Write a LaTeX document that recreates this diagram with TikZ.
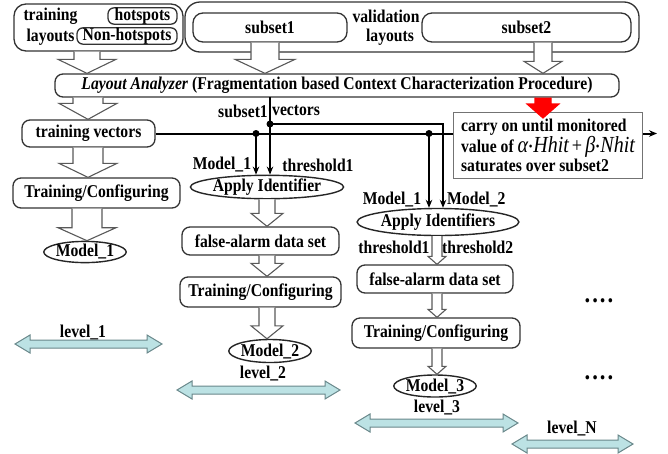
\documentclass[tikz,border=0pt]{standalone}
\usepackage{fontspec}
\setmainfont{Liberation Serif}[FakeStretch=0.87]
\usetikzlibrary{calc,shapes.geometric,arrows.meta}

% italic symbols of the monitored quantity
\newcommand\hv[1]{{\mdseries\itshape\fontsize{23}{19}\selectfont #1}}

% hollow block arrow pointing down: [style] {from} {to} {shaft half} {head half} {head length}
\newcommand\hollowarrow[6][]{%
  \draw[blockarrow,#1] let \p1=(#2), \p2=(#3) in
    (\x1-#4pt,\y1) -- (\x1-#4pt,\y2+#6pt) -- (\x1-#5pt,\y2+#6pt) -- (\x1,\y2)
    -- (\x1+#5pt,\y2+#6pt) -- (\x1+#4pt,\y2+#6pt) -- (\x1+#4pt,\y1);}

% horizontal double-headed level marker: {left x} {right x} {y}
\newcommand\levelmark[3]{%
  \draw[lvlarrow] (#1,#3) -- (#1+15,#3-9) -- (#1+15,#3-4) -- (#2-15,#3-4) -- (#2-15,#3-9)
    -- (#2,#3) -- (#2-15,#3+9) -- (#2-15,#3+4) -- (#1+15,#3+4) -- (#1+15,#3+9) -- cycle;}

\definecolor{lvlfill}{RGB}{188,226,228}
\definecolor{lvledge}{RGB}{105,135,138}

\tikzset{
  txt/.style={font=\fontsize{18}{19}\selectfont\bfseries, inner sep=0pt},
  rbox/.style={txt, draw=black!80, line width=1.3pt, rounded corners=8pt},
  ell/.style={txt, ellipse, draw=black!85, line width=1.4pt},
  blockarrow/.style={draw=black!65, fill=white, line width=1.1pt, line join=miter},
  conn/.style={line width=2pt, -{Stealth[length=8pt,width=6.5pt]}},
  thick line/.style={line width=2pt},
  lvlarrow/.style={draw=lvledge, fill=lvlfill, line width=1pt, line join=miter},
}

\begin{document}
\begin{tikzpicture}[x=1pt,y=-1pt]
\useasboundingbox (0,0) rectangle (668,453);

% ---- input layouts
\node[rbox, rounded corners=12pt, minimum width=169pt, minimum height=47pt] (trl) at (98.5,27.5) {};
\node[txt] (trtxt1) at (50.5,16) {training};
\node[txt] (trtxt2) at (50.5,37) {layouts};
\node[rbox, rounded corners=6pt, minimum width=69pt, minimum height=15pt] (hot) at (142.5,16) {hotspots};
\node[rbox, rounded corners=6pt, minimum width=100pt, minimum height=15pt] (nonhot) at (127,36) {Non-hotspots};

\node[rbox, rounded corners=15pt, minimum width=454pt, minimum height=50pt] (val) at (412,27) {};
\node[rbox, rounded corners=10pt, minimum width=154pt, minimum height=29pt] (sub1) at (270,27.5) {subset1};
\node[rbox, rounded corners=10pt, minimum width=209pt, minimum height=29pt] (sub2) at (526.5,27.5) {subset2};
\node[txt] (valtxt1) at (386,16) {validation};
\node[txt] (valtxt2) at (390,37) {layouts};

% ---- analyzer
\node[rbox, minimum width=564pt, minimum height=23pt] (LA) at (337,85.5)
  {\textit{Layout Analyzer} (Fragmentation based Context Characterization Procedure)};

% ---- level 1
\node[rbox, minimum width=133pt, minimum height=27pt] (tv) at (88.5,133.5) {training vectors};
\node[rbox, minimum width=167pt, minimum height=30pt] (tc1) at (96.5,193) {Training/Configuring};
\node[ell, minimum width=74pt, minimum height=21pt] (m1) at (85,252) {Model\_1};
\node[txt] (lv1) at (83,332) {level\_1};

% ---- level 2
\node[ell, minimum width=122pt, minimum height=21pt] (ai1) at (267,187) {Apply Identifier};
\node[rbox, minimum width=157pt, minimum height=28pt] (fa2) at (260.5,241) {false-alarm data set};
\node[rbox, minimum width=161pt, minimum height=30pt] (tc2) at (260.5,292) {Training/Configuring};
\node[ell, minimum width=80pt, minimum height=23pt] (m2) at (270,351) {Model\_2};
\node[txt] (lv2) at (263,373) {level\_2};

% ---- level 3
\node[ell, minimum width=130pt, minimum height=27pt] (ai2) at (438,222) {Apply Identifiers};
\node[rbox, minimum width=156pt, minimum height=28pt] (fa3) at (435,279) {false-alarm data set};
\node[rbox, minimum width=168pt, minimum height=30pt] (tc3) at (436,333) {Training/Configuring};
\node[ell, minimum width=74pt, minimum height=22pt] (m3) at (435,386) {Model\_3};
\node[txt] (lv3) at (437,407) {level\_3};

% ---- level N
\node[txt] (lvN) at (572,428) {level\_N};
\node[txt, font=\fontsize{26}{26}\selectfont\bfseries] (dots1) at (599,301) {.\kern2pt.\kern2pt.\kern2pt.};
\node[txt, font=\fontsize{26}{26}\selectfont\bfseries] (dots2) at (599,378) {.\kern2pt.\kern2pt.\kern2pt.};

% ---- stopping rule
\node[txt, draw=black!55, line width=1pt, minimum width=189pt, minimum height=66pt,
      align=left, anchor=north west] (carry) at (453,112)
  {carry on until monitored\\value of \hv{α}·\hv{Hhit}\,{\mdseries\fontsize{21}{19}\selectfont +}\,\hv{β}·\hv{Nhit}\\saturates over subset2};

% ---- edge labels
\node[txt, anchor=east] (s1lab) at (268,111) {subset1};
\node[txt, anchor=west] (veclab) at (272,111) {vectors};
\node[txt] (lm1a) at (222,165) {Model\_1};
\node[txt] (lth1a) at (318,165) {threshold1};
\node[txt] (lm1b) at (392,200) {Model\_1};
\node[txt, anchor=west] (lm2b) at (447,200) {Model\_2};
\node[txt] (lth1b) at (394,247) {threshold1};
\node[txt, anchor=west] (lth2b) at (442,247) {threshold2};

% ---- hollow flow arrows
\hollowarrow{87,0 |- trl.south}{LA.north}{13}{29}{14}
\hollowarrow{265,0 |- sub1.south}{LA.north}{14}{30}{14}
\hollowarrow{543,0 |- sub2.south}{LA.north}{9}{19}{12}
\hollowarrow[draw=red, fill=red]{543,0 |- LA.south}{$(carry.north)+(0,6)$}{8}{16}{14}

\hollowarrow{88,0 |- LA.south}{tv.north}{15}{29}{16}
\hollowarrow{88,0 |- tv.south}{tc1.north}{15}{29}{14}
\hollowarrow{87,0 |- tc1.south}{m1.north}{15}{29}{13}

\hollowarrow{267,0 |- ai1.south}{fa2.north}{8}{16}{13}
\hollowarrow{267,0 |- fa2.south}{tc2.north}{8}{16}{13}
\hollowarrow{267,0 |- tc2.south}{m2.north}{8}{16}{13}

\hollowarrow{437,0 |- ai2.south}{fa3.north}{5}{9}{8}
\hollowarrow{437,0 |- fa3.south}{tc3.north}{5}{9}{8}
\hollowarrow{437,0 |- tc3.south}{m3.north}{5}{9}{8}

% ---- vector buses
\coordinate (j1) at (256,133.5);
\coordinate (j2) at (429,133.5);
\coordinate (k0) at (270,97);
\coordinate (k1) at (270,124);
\coordinate (k2) at (443,124);
\coordinate (out) at (657,133.5);

\draw[thick line] (tv.east) -- (tv.east -| carry.west);
\draw[conn] (carry.east |- tv.east) -- (out);
\draw[conn] (j1) -- (j1 |- ai1.north);
\draw[conn] (k0) -- (k0 |- ai1.north);
\draw[conn] (k1) -- (k2) -- (k2 |- ai2.north);
\draw[conn] (j2) -- (j2 |- ai2.north);
\foreach \p in {j1,j2,k1} \fill (\p) circle (3.5pt);

% ---- level markers
\levelmark{15}{162}{344}
\levelmark{177}{340}{390}
\levelmark{355}{518}{423}
\levelmark{512}{633}{444}
\end{tikzpicture}
\end{document}
